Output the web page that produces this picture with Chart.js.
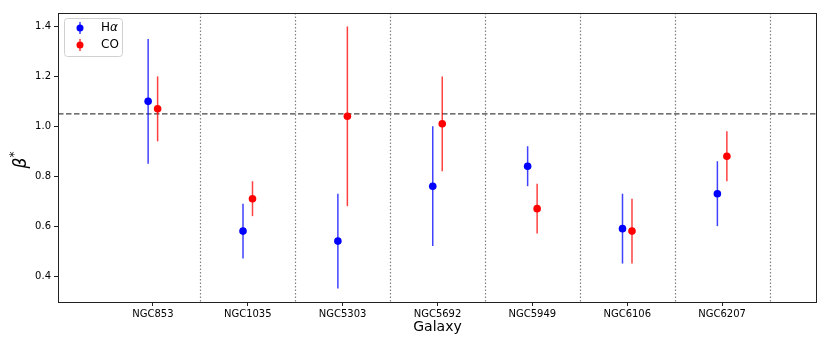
<!DOCTYPE html>
<html>
<head>
<meta charset="utf-8">
<script src="https://cdn.jsdelivr.net/npm/chart.js@4"></script>
<style>
  html, body { margin: 0; padding: 0; background: #fff; }
  canvas { display: block; }
</style>
</head>
<body>
<canvas id="chart" width="830" height="346"></canvas>
<script>
// data
var galaxies = ['NGC853', 'NGC1035', 'NGC5303', 'NGC5692', 'NGC5949', 'NGC6106', 'NGC6207'];

var haValues = [1.10, 0.58, 0.54, 0.76, 0.84, 0.59, 0.73];
var haLow    = [0.85, 0.47, 0.35, 0.52, 0.76, 0.45, 0.60];
var haHigh   = [1.35, 0.69, 0.73, 1.00, 0.92, 0.73, 0.86];

var coValues = [1.07, 0.71, 1.04, 1.01, 0.67, 0.58, 0.88];
var coLow    = [0.94, 0.64, 0.68, 0.82, 0.57, 0.45, 0.78];
var coHigh   = [1.20, 0.78, 1.40, 1.20, 0.77, 0.71, 0.98];

var yTicks = [0.4, 0.6, 0.8, 1.0, 1.2, 1.4];
var refLine = 1.05;

var FONT = "'DejaVu Sans', sans-serif";
var shift = 0.05;

function points(vals, dx) {
  var out = [];
  for (var i = 0; i < vals.length; i++) out.push({ x: i + dx, y: vals[i] });
  return out;
}

var errorBars = {
  id: 'errorBars',
  beforeDatasetsDraw: function(chart) {
    var ctx = chart.ctx, xs = chart.scales.x, ys = chart.scales.y, a = chart.chartArea;
    ctx.save();
    // dotted separators between galaxies
    ctx.strokeStyle = '#808080';
    ctx.lineWidth = 1.2;
    ctx.setLineDash([1.5, 2]);
    for (var i = 0; i < galaxies.length; i++) {
      var sx = Math.round(xs.getPixelForValue(i + 0.5)) + 0.5;
      ctx.beginPath(); ctx.moveTo(sx, a.top); ctx.lineTo(sx, a.bottom); ctx.stroke();
    }
    // reference line
    ctx.strokeStyle = '#444';
    ctx.lineWidth = 1.4;
    ctx.setLineDash([5.5, 2.5]);
    var ry = ys.getPixelForValue(refLine);
    ctx.beginPath(); ctx.moveTo(a.left, ry); ctx.lineTo(a.right, ry); ctx.stroke();
    ctx.setLineDash([]);
    // error bars
    var sets = [
      { lo: haLow, hi: haHigh, dx: -shift, c: 'rgba(0,0,255,0.75)' },
      { lo: coLow, hi: coHigh, dx: shift, c: 'rgba(255,0,0,0.75)' }
    ];
    sets.forEach(function(s) {
      ctx.strokeStyle = s.c;
      ctx.lineWidth = 1.5;
      for (var j = 0; j < s.lo.length; j++) {
        var px = xs.getPixelForValue(j + s.dx);
        ctx.beginPath();
        ctx.moveTo(px, ys.getPixelForValue(s.lo[j]));
        ctx.lineTo(px, ys.getPixelForValue(s.hi[j]));
        ctx.stroke();
      }
    });
    ctx.restore();
  },
  afterDraw: function(chart) {
    var ctx = chart.ctx, a = chart.chartArea;
    ctx.save();
    // frame
    ctx.strokeStyle = '#222';
    ctx.lineWidth = 1;
    ctx.strokeRect(Math.round(a.left) + 0.5, Math.round(a.top) + 0.5,
                   Math.round(a.right - a.left) - 1, Math.round(a.bottom - a.top));
    // legend box
    var bx = 64.5, by = 18.5, bw = 58, bh = 38;
    ctx.fillStyle = 'rgba(255,255,255,0.8)';
    ctx.strokeStyle = '#d0d0d0';
    ctx.beginPath();
    ctx.roundRect(bx, by, bw, bh, 3);
    ctx.fill(); ctx.stroke();
    var items = [
      { c: 'blue', lc: 'rgba(0,0,255,0.75)', y: 28, label: 'H', greek: 'α' },
      { c: 'red', lc: 'rgba(255,0,0,0.75)', y: 45, label: 'CO', greek: '' }
    ];
    items.forEach(function(it) {
      ctx.strokeStyle = it.lc;
      ctx.lineWidth = 1.5;
      ctx.beginPath(); ctx.moveTo(80, it.y - 6); ctx.lineTo(80, it.y + 6); ctx.stroke();
      ctx.fillStyle = it.c;
      ctx.beginPath(); ctx.arc(80, it.y, 3.5, 0, Math.PI * 2); ctx.fill();
      ctx.fillStyle = '#000';
      ctx.textBaseline = 'middle';
      ctx.textAlign = 'left';
      ctx.font = '12px ' + FONT;
      ctx.fillText(it.label, 101, it.y);
      if (it.greek) {
        var w = ctx.measureText(it.label).width;
        ctx.font = 'italic 12px ' + FONT;
        ctx.fillText(it.greek, 101 + w, it.y);
      }
    });
    // axis titles
    ctx.fillStyle = '#000';
    ctx.textAlign = 'center';
    ctx.textBaseline = 'middle';
    ctx.font = '14px ' + FONT;
    ctx.fillText('Galaxy', (a.left + a.right) / 2, 327);
    ctx.translate(22, 160);
    ctx.rotate(-Math.PI / 2);
    ctx.font = 'italic 17px ' + FONT;
    ctx.textAlign = 'left';
    var bw2 = ctx.measureText('β').width;
    ctx.fillText('β', -(bw2 + 6) / 2, 0);
    ctx.font = '12px ' + FONT;
    ctx.fillText('*', -(bw2 + 6) / 2 + bw2, -7);
    ctx.restore();
  }
};

var config = {
  type: 'scatter',
  data: {
    datasets: [{
      label: 'Hα',
      data: points(haValues, -shift),
      backgroundColor: 'blue',
      borderColor: 'blue',
      pointRadius: 3.8,
      pointHoverRadius: 3.8,
      borderWidth: 0
    }, {
      label: 'CO',
      data: points(coValues, shift),
      backgroundColor: 'red',
      borderColor: 'red',
      pointRadius: 3.8,
      pointHoverRadius: 3.8,
      borderWidth: 0
    }]
  },
  options: {
    responsive: false,
    animation: false,
    events: [],
    layout: { padding: { top: 13, right: 13, left: 0, bottom: 0 } },
    plugins: { legend: { display: false }, tooltip: { enabled: false } },
    scales: {
      x: {
        type: 'linear',
        min: -1,
        max: 7,
        afterBuildTicks: function(s) {
          s.ticks = galaxies.map(function(g, i) { return { value: i }; });
        },
        afterFit: function(s) { s.height = 44; },
        ticks: {
          autoSkip: false,
          maxRotation: 0,
          padding: 2,
          color: '#000',
          font: { family: FONT, size: 10 },
          callback: function(v) { return galaxies[v]; }
        },
        grid: { drawOnChartArea: false, tickLength: 4, color: '#222', tickWidth: 1 },
        border: { display: false }
      },
      y: {
        min: 0.296,
        max: 1.454,
        afterBuildTicks: function(s) {
          s.ticks = yTicks.map(function(v) { return { value: v }; });
        },
        afterFit: function(s) { s.width = 58; },
        ticks: {
          padding: 3,
          color: '#000',
          font: { family: FONT, size: 10 },
          callback: function(v) { return v.toFixed(1); }
        },
        grid: { drawOnChartArea: false, tickLength: 4, color: '#222', tickWidth: 1 },
        border: { display: false }
      }
    }
  },
  plugins: [errorBars]
};

var ctx = document.getElementById('chart');
var myChart = new Chart(ctx, config);
</script>
</body>
</html>
